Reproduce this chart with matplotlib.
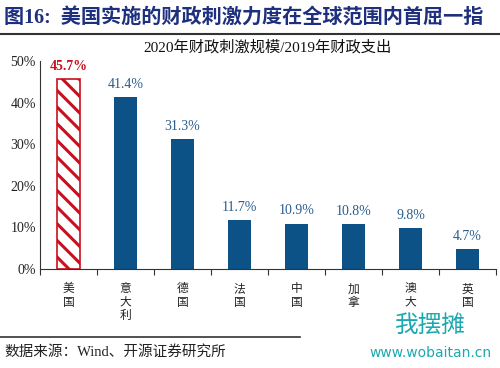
import matplotlib
matplotlib.use("Agg")
import matplotlib.pyplot as plt
from matplotlib.lines import Line2D

plt.rcParams['font.family'] = ['Liberation Serif', 'Noto Sans CJK SC', 'DejaVu Sans']
plt.rcParams['hatch.linewidth'] = 2.2

categories = ["美国", "意大利", "德国", "法国", "中国", "加拿", "澳大", "英国"]
values = [45.7, 41.4, 31.3, 11.7, 10.9, 10.8, 9.8, 4.7]
yticks = [0, 10, 20, 30, 40, 50]

fig = plt.figure(figsize=(5, 3.68), dpi=100)
ax = fig.add_axes([0.08, 0.269, 0.912, 0.565])

blue = "#0c5287"
red = "#c8101e"
x = list(range(len(categories)))
bars = ax.bar(x, values, width=0.42, color=blue, zorder=2)
bars[0].set_facecolor("white")
bars[0].set_edgecolor(red)
bars[0].set_hatch("\\\\")
bars[0].set_linewidth(1.2)

for i, v in enumerate(values):
    if i == 0:
        ax.text(i, v + 1.5, f"{v}%", ha="center", va="bottom", color=red,
                fontsize=10, fontweight="bold")
    else:
        ax.text(i, v + 1.5, f"{v}%", ha="center", va="bottom", color="#2a5d8c",
                fontsize=10)

ax.set_xlim(-0.5, len(categories) - 0.5)
ax.set_ylim(0, 50)
ax.set_yticks(yticks)
ax.set_yticklabels([f"{t}%" for t in yticks], fontsize=10, color="#222222")
ax.tick_params(axis="y", length=0, pad=3)
ax.set_xticks([i - 0.5 for i in range(len(categories) + 1)])
ax.set_xticklabels([])
ax.tick_params(axis="x", length=4, direction="out", color="#333333")
for i, c in enumerate(categories):
    ax.text(i, -3.2, "\n".join(c), ha="center", va="top", fontsize=8.5,
            family=['Noto Sans CJK SC', 'DejaVu Sans'], color="#222222",
            linespacing=1.05)
for s in ["top", "right"]:
    ax.spines[s].set_visible(False)
ax.spines["left"].set_color("#333333")
ax.spines["bottom"].set_color("#333333")

ax.text(0.5, 1.03, "2020年财政刺激规模/2019年财政支出", transform=ax.transAxes,
        ha="center", va="bottom", fontsize=11,
        family=['Liberation Serif', 'Noto Sans CJK SC'], color="#111111")

fig.text(0.008, 0.952, "图16:  美国实施的财政刺激力度在全球范围内首屈一指",
         ha="left", va="center", fontsize=14.5, fontweight="bold",
         color="#1d2f7d", family=['Liberation Serif', 'Noto Sans CJK SC'])
fig.add_artist(Line2D([0, 1], [0.908, 0.908], transform=fig.transFigure,
                      color="#333333", linewidth=1.5))
fig.add_artist(Line2D([0, 0.6], [0.083, 0.083], transform=fig.transFigure,
                      color="#333333", linewidth=1.2))
fig.text(0.008, 0.045, "数据来源：Wind、开源证券研究所", ha="left", va="center",
         fontsize=10.5, color="#222222",
         family=['Liberation Serif', 'Noto Sans CJK SC'])
fig.text(0.86, 0.115, "我摆摊", ha="center", va="center", fontsize=17,
         color="#1aa9b0", family=['Noto Sans CJK SC'])
fig.text(0.86, 0.04, "www.wobaitan.cn", ha="center", va="center", fontsize=10,
         color="#1aa9b0", family=['DejaVu Sans'])

fig.savefig("out.png", dpi=100)
